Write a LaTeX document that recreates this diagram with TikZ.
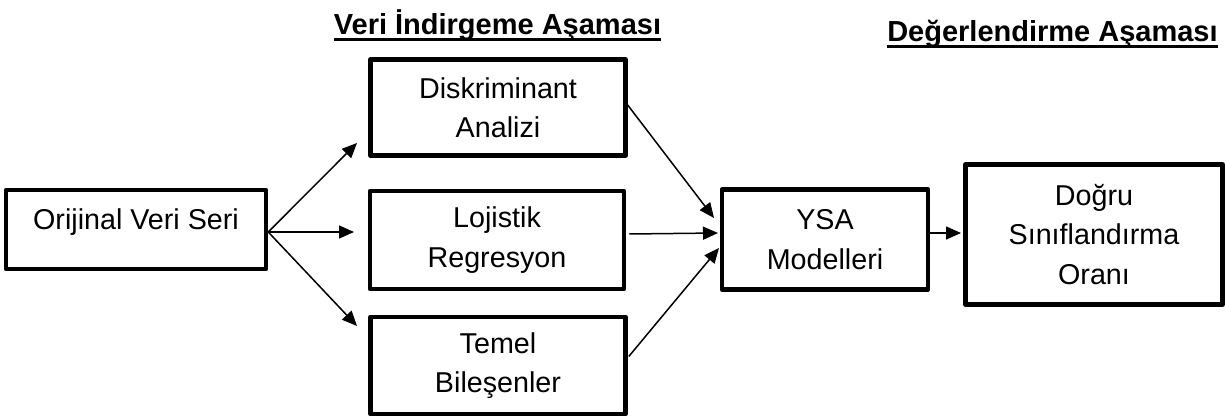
\documentclass[tikz,border=0pt]{standalone}
\usepackage{fontspec}
\setmainfont{Liberation Sans}
\usetikzlibrary{arrows.meta}
\begin{document}
\begin{tikzpicture}[x=1pt,y=-1pt,
  box/.style={draw=black,line width=4.5pt,line join=round,align=center,
    font=\fontsize{28.7}{39.5}\selectfont,inner sep=0pt},
  arr/.style={line width=1.5pt,-{Triangle[length=15pt,width=13pt]}},
  hdr/.style={font=\fontsize{29}{34}\bfseries\selectfont,inner sep=0pt,anchor=base},
  uline/.style={line width=3pt}]
\useasboundingbox (0,0) rectangle (1226,419);
% boxes
\node[box,minimum width=260pt,minimum height=79pt] (ori) at (136,229.5)
  {\raisebox{0pt}[0pt][0pt]{Orijinal Veri Seri}};
\node[box,minimum width=255pt,minimum height=96pt] (disk) at (498,107.5)
  {Diskriminant\\Analizi};
\node[box,minimum width=254pt,minimum height=98pt] (loj) at (497,240)
  {Lojistik\\Regresyon};
\node[box,minimum width=255pt,minimum height=97pt] (tem) at (498,365.5)
  {Temel\\Bile\c{s}enler};
\node[box,minimum width=206pt,minimum height=100pt] (ysa) at (825,239.5)
  {YSA\\Modelleri};
\node[box,minimum width=257pt,minimum height=140pt] (dog) at (1094,234.5)
  {Do\u{g}ru\\S\i n\i fland\i rma\\Oran\i};
% headers
\node[hdr] (h1) at (497.5,35) {Veri \.Indirgeme A\c{s}amas\i};
\node[hdr] (h2) at (1052.5,42) {De\u{g}erlendirme A\c{s}amas\i};
\draw[uline] ([yshift=-5pt]h1.base west) -- ([yshift=-5pt]h1.base east);
\draw[uline] ([yshift=-5pt]h2.base west) -- ([yshift=-5pt]h2.base east);
% arrow tips
\coordinate (t1) at (357,143);
\coordinate (t2) at (354,232);
\coordinate (t3) at (357,326);
\coordinate (t4) at (714,218);
\coordinate (t5) at (718,233);
\coordinate (t6) at (719,248);
\coordinate (t7) at (961,233);
% arrows
\draw[arr] ([yshift=-2.5pt]ori.east) -- (t1);
\draw[arr] ([yshift=-2.5pt]ori.east) -- (t2);
\draw[arr] ([yshift=-2.5pt]ori.east) -- (t3);
\draw[arr] ([xshift=-2pt,yshift=5pt]disk.east) -- (t4);
\draw[arr] ([xshift=3pt,yshift=6pt]loj.east) -- (t5);
\draw[arr] ([xshift=1pt,yshift=9pt]tem.east) -- (t6);
\draw[arr] ([yshift=6.5pt]ysa.east) -- (t7);
\end{tikzpicture}
\end{document}
